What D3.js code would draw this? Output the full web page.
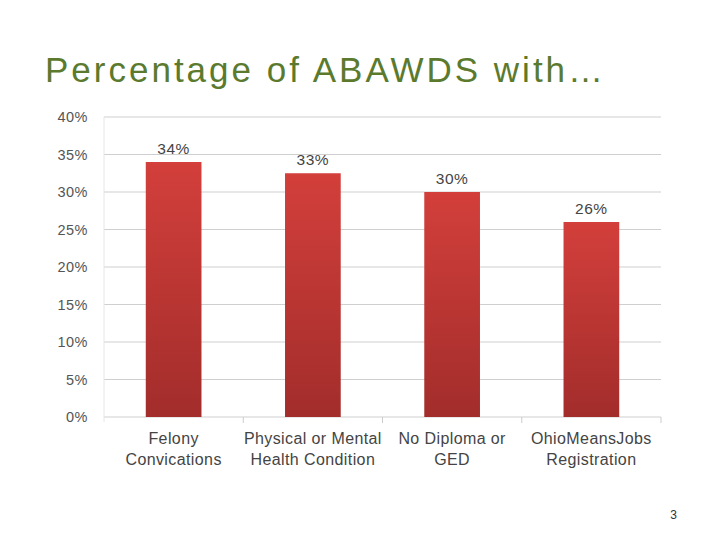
<!DOCTYPE html>
<html><head><meta charset="utf-8">
<script src="https://cdn.jsdelivr.net/npm/d3@7"></script>
<style>body{margin:0;background:#fff}</style></head>
<body><svg id="c" width="720" height="540"></svg>
<script>
const categories = [["Felony","Convications"],["Physical or Mental","Health Condition"],["No Diploma or","GED"],["OhioMeansJobs","Registration"]];
const values = [34, 32.5, 30, 26];
const valueLabels = ["34%","33%","30%","26%"];
const yTicks = [0,5,10,15,20,25,30,35,40];

const svg = d3.select("#c");
const x = d3.scaleBand().domain(d3.range(categories.length)).range([104,661]).paddingInner(0.6).paddingOuter(0.3);
const xb = d3.scaleBand().domain(d3.range(categories.length)).range([104,661]);
const y = d3.scaleLinear().domain([0,40]).range([417,117]);

const g = svg.append("defs").append("linearGradient").attr("id","bg").attr("x1",0).attr("x2",0).attr("y1",0).attr("y2",1);
g.append("stop").attr("offset","0%").attr("stop-color","#d33f3b");
g.append("stop").attr("offset","100%").attr("stop-color","#a22d2b");

svg.append("text").attr("x",45).attr("y",82).attr("font-family","Liberation Sans, Arial").attr("font-size",35).attr("letter-spacing",3).attr("fill","#5b7a2e").text("Percentage of ABAWDS with…");

svg.append("g").selectAll("line").data(yTicks).join("line")
  .attr("x1",104).attr("x2",661).attr("y1",d=>y(d)).attr("y2",d=>y(d))
  .attr("stroke","#cfcfcf").attr("stroke-width",1);
svg.append("line").attr("x1",104).attr("x2",104).attr("y1",117).attr("y2",422).attr("stroke","#e6e6e6");
svg.append("g").selectAll("line").data(d3.range(1,categories.length+1)).join("line")
  .attr("x1",i=>104+i*xb.bandwidth()).attr("x2",i=>104+i*xb.bandwidth()).attr("y1",417).attr("y2",423).attr("stroke","#ccc");

svg.append("g").selectAll("text").data(yTicks).join("text")
  .attr("x",88).attr("y",d=>y(d)+5).attr("text-anchor","end").attr("letter-spacing",0.5)
  .attr("font-family","Liberation Sans, Arial").attr("font-size",14.5).attr("fill","#555").text(d=>d+"%");

svg.append("g").selectAll("rect").data(values).join("rect")
  .attr("x",(d,i)=>x(i)).attr("width",x.bandwidth()).attr("y",d=>y(d)).attr("height",d=>y(0)-y(d)).attr("fill","url(#bg)");

svg.append("g").selectAll("text").data(values).join("text")
  .attr("x",(d,i)=>x(i)+x.bandwidth()/2).attr("y",d=>y(d)-8).attr("text-anchor","middle").attr("letter-spacing",0.5)
  .attr("font-family","Liberation Sans, Arial").attr("font-size",15.5).attr("fill","#444").text((d,i)=>valueLabels[i]);

const lab = svg.append("g").selectAll("text").data(categories).join("text")
  .attr("x",(d,i)=>xb(i)+xb.bandwidth()/2).attr("y",444).attr("text-anchor","middle").attr("letter-spacing",0.4)
  .attr("font-family","Liberation Sans, Arial").attr("font-size",16).attr("fill","#444");
lab.selectAll("tspan").data(d=>d).join("tspan").attr("x",function(){return this.parentNode.getAttribute("x");}).attr("dy",(d,i)=>i?21:0).text(d=>d);

svg.append("text").attr("x",677).attr("y",519).attr("text-anchor","end").attr("font-family","Liberation Sans, Arial").attr("font-size",12).attr("fill","#333").text("3");
</script></body></html>
